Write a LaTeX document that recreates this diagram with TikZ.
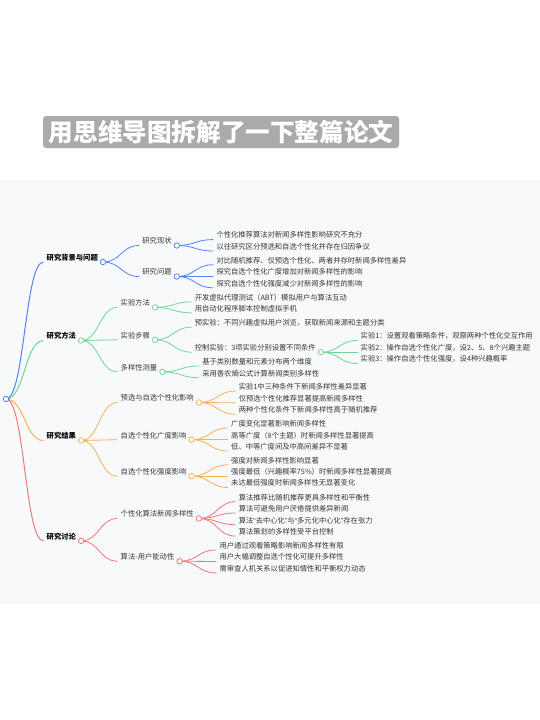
\documentclass[tikz,border=0pt]{standalone}
\usepackage{fontspec}
\setmainfont{Noto Sans CJK SC}
\newfontfamily\qfont{Liberation Sans}
\usetikzlibrary{calc}
\definecolor{mmblue}{RGB}{82,132,240}
\definecolor{mmgreen}{RGB}{112,214,150}
\definecolor{mmorange}{RGB}{246,176,88}
\definecolor{mmred}{RGB}{240,118,118}
\definecolor{txtgray}{RGB}{55,55,55}
\definecolor{panel}{RGB}{248,249,251}
\definecolor{titlegray}{RGB}{170,170,170}
\tikzset{
  lbl/.style={inner sep=0pt, text height=6.6pt, text depth=1pt, font=\fontsize{7.3}{8}\selectfont, text=txtgray},
  lone/.style={inner sep=0pt, text height=6.6pt, text depth=1pt, font=\fontsize{7.3}{8}\selectfont\bfseries, text=black},
  dot/.style={circle, draw, fill=white, inner sep=0pt, minimum size=5.4pt, line width=0.8pt},
  link/.style={line width=0.8pt},
  thick link/.style={line width=1pt},
}
\newcommand\mmnode[5]{%
  \node[#2, anchor=west] (#1) at (#3,#4) {#5};
  \coordinate (#1-in) at ($(#1.west)+(-3,4.5)$);
  \coordinate (#1-c) at ($(#1.east)+(5,4.5)$);
}
\newcommand\mmlink[3]{%
  \draw[link,#1] let \p1=(#2), \p2=(#3) in (\p1) .. controls ({0.5*\x1+0.5*\x2},\y1) and ({0.5*\x1+0.5*\x2},\y2) .. (\p2);
}
\newcommand\mmdot[2]{\node[dot, draw=#2] (#1-dot) at (#1-c) {};}
\begin{document}
\begin{tikzpicture}[x=1pt,y=-1pt]
\useasboundingbox (0,0) rectangle (540,720);
\fill[white] (0,0) rectangle (540,720);
\fill[panel] (0,180) rectangle (540,604);
\node[fill=titlegray, rounded corners=3pt, text=white, inner sep=0pt,
      minimum width=356pt, minimum height=32pt,
      font=\fontsize{24.6}{26}\selectfont\bfseries] (title) at (221,132) {用思维导图拆解了一下整篇论文};

\coordinate (root-c) at (6,399);
% level 1
\mmnode{b1}{lone}{46.5}{257.5}{研究背景与问题}
\mmnode{b2}{lone}{46.5}{336}{研究方法}
\mmnode{b3}{lone}{46.5}{436}{研究结果}
\mmnode{b4}{lone}{46.5}{536.4}{研究讨论}
% blue
\mmnode{b1a}{lbl}{142.2}{241}{研究现状}
\mmnode{b1b}{lbl}{142.2}{272}{研究问题}
\mmnode{b1a1}{lbl}{216.3}{235.1}{个性化推荐算法对新闻多样性影响研究不充分}
\mmnode{b1a2}{lbl}{216.3}{246.5}{以往研究区分预选和自选个性化并存在归因争议}
\mmnode{b1b1}{lbl}{216.3}{260.2}{对比随机推荐、仅预选个性化、两者并存时新闻多样性差异}
\mmnode{b1b2}{lbl}{216.3}{271.9}{探究自选个性化广度增加对新闻多样性的影响}
\mmnode{b1b3}{lbl}{216.3}{283.3}{探究自选个性化强度减少对新闻多样性的影响}
% green
\mmnode{g1}{lbl}{120.5}{302.9}{实验方法}
\mmnode{g2}{lbl}{120.5}{335.3}{实验步骤}
\mmnode{g3}{lbl}{120.5}{367.3}{多样性测量}
\mmnode{g1a}{lbl}{194.6}{297.4}{开发虚拟代理测试（ABT）模拟用户与算法互动}
\mmnode{g1b}{lbl}{194.6}{308.4}{用自动化程序脚本控制虚拟手机}
\mmnode{g2a}{lbl}{194.6}{322.6}{预实验：不同兴趣虚拟用户浏览，获取新闻来源和主题分类}
\mmnode{g2b}{lbl}{194.6}{347.7}{控制实验：3项实验分别设置不同条件}
\mmnode{g2b1}{lbl}{360.5}{336}{实验1：设置观看策略条件，观察两种个性化交互作用}
\mmnode{g2b2}{lbl}{360.5}{347.7}{实验2：操作自选个性化广度，设2、5、8个兴趣主题}
\mmnode{g2b3}{lbl}{360.5}{359}{实验3：操作自选个性化强度，设4种兴趣概率}
\mmnode{g3a}{lbl}{202.1}{361.5}{基于类别数量和元素分布两个维度}
\mmnode{g3b}{lbl}{202.1}{373.2}{采用香农熵公式计算新闻类别多样性}
% orange
\mmnode{o1}{lbl}{120.5}{398}{预选与自选个性化影响}
\mmnode{o2}{lbl}{120.5}{435.2}{自选个性化广度影响}
\mmnode{o3}{lbl}{120.5}{471.7}{自选个性化强度影响}
\mmnode{o1a}{lbl}{238.6}{386.6}{实验1中三种条件下新闻多样性差异显著}
\mmnode{o1b}{lbl}{238.6}{398.3}{仅预选个性化推荐显著提高新闻多样性}
\mmnode{o1c}{lbl}{238.6}{409.7}{两种个性化条件下新闻多样性高于随机推荐}
\mmnode{o2a}{lbl}{231}{423.5}{广度变化显著影响新闻多样性}
\mmnode{o2b}{lbl}{231}{435.2}{高等广度（8个主题）时新闻多样性显著提高}
\mmnode{o2c}{lbl}{231}{446.5}{低、中等广度间及中高间差异不显著}
\mmnode{o3a}{lbl}{231}{460.3}{强度对新闻多样性影响显著}
\mmnode{o3b}{lbl}{231}{471.7}{强度最低（兴趣概率75\%）时新闻多样性显著提高}
\mmnode{o3c}{lbl}{231}{483}{未达最低强度时新闻多样性无显著变化}
% red
\mmnode{r1}{lbl}{120.5}{514}{个性化算法新闻多样性}
\mmnode{r2}{lbl}{120.5}{556.7}{算法-用户能动性}
\mmnode{r1a}{lbl}{238.6}{497.2}{算法推荐比随机推荐更具多样性和平衡性}
\mmnode{r1b}{lbl}{238.6}{508.5}{算法可避免用户厌倦提供差异新闻}
\mmnode{r1c}{lbl}{238.6}{520.2}{算法{\qfont “}去中心化{\qfont ”}与{\qfont “}多元化中心化{\qfont ”}存在张力}
\mmnode{r1d}{lbl}{238.6}{531.6}{算法策划的多样性受平台控制}
\mmnode{r2a}{lbl}{219.4}{545.4}{用户通过观看策略影响新闻多样性有限}
\mmnode{r2b}{lbl}{219.4}{557}{用户大幅调整自选个性化可提升多样性}
\mmnode{r2c}{lbl}{219.4}{568.4}{需审查人机关系以促进知情性和平衡权力动态}

% links
\mmlink{mmblue,thick link}{root-c}{b1-in}
\mmlink{mmgreen,thick link}{root-c}{b2-in}
\mmlink{mmorange,thick link}{root-c}{b3-in}
\mmlink{mmred,thick link}{root-c}{b4-in}
\mmlink{mmblue}{b1-c}{b1a-in}
\mmlink{mmblue}{b1-c}{b1b-in}
\mmlink{mmblue}{b1a-c}{b1a1-in}
\mmlink{mmblue}{b1a-c}{b1a2-in}
\mmlink{mmblue}{b1b-c}{b1b1-in}
\mmlink{mmblue}{b1b-c}{b1b2-in}
\mmlink{mmblue}{b1b-c}{b1b3-in}
\mmlink{mmgreen}{b2-c}{g1-in}
\mmlink{mmgreen}{b2-c}{g2-in}
\mmlink{mmgreen}{b2-c}{g3-in}
\mmlink{mmgreen}{g1-c}{g1a-in}
\mmlink{mmgreen}{g1-c}{g1b-in}
\mmlink{mmgreen}{g2-c}{g2a-in}
\mmlink{mmgreen}{g2-c}{g2b-in}
\mmlink{mmgreen}{g2b-c}{g2b1-in}
\mmlink{mmgreen}{g2b-c}{g2b2-in}
\mmlink{mmgreen}{g2b-c}{g2b3-in}
\mmlink{mmgreen}{g3-c}{g3a-in}
\mmlink{mmgreen}{g3-c}{g3b-in}
\mmlink{mmorange}{b3-c}{o1-in}
\mmlink{mmorange}{b3-c}{o2-in}
\mmlink{mmorange}{b3-c}{o3-in}
\mmlink{mmorange}{o1-c}{o1a-in}
\mmlink{mmorange}{o1-c}{o1b-in}
\mmlink{mmorange}{o1-c}{o1c-in}
\mmlink{mmorange}{o2-c}{o2a-in}
\mmlink{mmorange}{o2-c}{o2b-in}
\mmlink{mmorange}{o2-c}{o2c-in}
\mmlink{mmorange}{o3-c}{o3a-in}
\mmlink{mmorange}{o3-c}{o3b-in}
\mmlink{mmorange}{o3-c}{o3c-in}
\mmlink{mmred}{b4-c}{r1-in}
\mmlink{mmred}{b4-c}{r2-in}
\mmlink{mmred}{r1-c}{r1a-in}
\mmlink{mmred}{r1-c}{r1b-in}
\mmlink{mmred}{r1-c}{r1c-in}
\mmlink{mmred}{r1-c}{r1d-in}
\mmlink{mmred}{r2-c}{r2a-in}
\mmlink{mmred}{r2-c}{r2b-in}
\mmlink{mmred}{r2-c}{r2c-in}

% dots
\mmdot{root}{mmblue}
\mmdot{b1}{mmblue}
\mmdot{b1a}{mmblue}
\mmdot{b1b}{mmblue}
\mmdot{b2}{mmgreen}
\mmdot{g1}{mmgreen}
\mmdot{g2}{mmgreen}
\mmdot{g2b}{mmgreen}
\mmdot{g3}{mmgreen}
\mmdot{b3}{mmorange}
\mmdot{o1}{mmorange}
\mmdot{o2}{mmorange}
\mmdot{o3}{mmorange}
\mmdot{b4}{mmred}
\mmdot{r1}{mmred}
\mmdot{r2}{mmred}
\end{tikzpicture}
\end{document}
